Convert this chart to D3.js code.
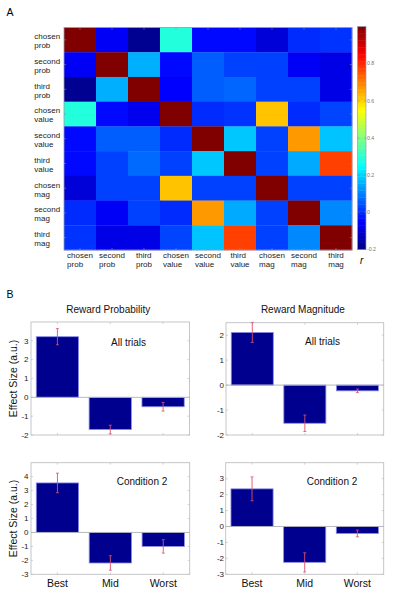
<!DOCTYPE html>
<html><head><meta charset="utf-8">
<script src="https://cdn.jsdelivr.net/npm/d3@7"></script>
<style>
body{margin:0;background:#fff;}
text{font-family:"Liberation Sans",Arial,sans-serif;}
</style></head>
<body><svg id="c" width="410" height="605"></svg>
<script>
// ---------- DATA ----------
const varLabels = [["chosen","prob"],["second","prob"],["third","prob"],["chosen","value"],["second","value"],["third","value"],["chosen","mag"],["second","mag"],["third","mag"]];
const corrMatrix = [
 [1.00,-0.06,-0.18, 0.29,-0.04,-0.04,-0.095,0.00, 0.01],
 [-0.06,1.00, 0.157,-0.04,0.06, 0.025,0.025,-0.06,-0.08],
 [-0.18,0.157,1.00,-0.05, 0.06, 0.07, 0.025,0.025,-0.08],
 [0.29,-0.04,-0.07, 1.00, 0.00, 0.01, 0.62, 0.00, 0.03],
 [-0.04,0.06, 0.06, 0.00, 1.00, 0.185,0.025,0.67, 0.18],
 [-0.04,0.025,0.075,0.025,0.185,1.00,0.025,0.15, 0.775],
 [-0.095,0.025,0.025,0.62,0.025,0.025,1.00,0.025,0.025],
 [0.00,-0.06,0.025, 0.00, 0.67, 0.15, 0.025,1.00, 0.11],
 [0.01,-0.08,-0.08, 0.03, 0.18, 0.775,0.025,0.11, 1.00]
];
const colorbarTicks = [-0.2, 0, 0.2, 0.4, 0.6, 0.8];
const colorbarTickLabels = ["-0.2","0","0.2","0.4","0.6","0.8"];

const barCategories = ["Best","Mid","Worst"];
const probAllTrials = [3.22,-1.71,-0.50];
const probAllTrialsErr = [0.43,0.23,0.23];
const magAllTrials = [2.11,-1.53,-0.23];
const magAllTrialsErr = [0.40,0.33,0.07];
const probCond2 = [3.55,-2.19,-1.00];
const probCond2Err = [0.70,0.52,0.48];
const magCond2 = [2.36,-2.25,-0.44];
const magCond2Err = [0.75,0.60,0.21];
const yTicksProbAll = [-2,-1,0,1,2,3];
const yTicksMagAll = [-2,-1,0,1,2];
const yTicksProbC2 = [-3,-2,-1,0,1,2,3,4];
const yTicksMagC2 = [-3,-2,-1,0,1,2,3];

// ---------- HELPERS ----------
const svg = d3.select("#c");
function jet(t){
  const cl = v => Math.max(0, Math.min(1, v));
  const r = cl(Math.min(4*t-1.5, -4*t+4.5));
  const g = cl(Math.min(4*t-0.5, -4*t+3.5));
  const b = cl(Math.min(4*t+0.5, -4*t+2.5));
  return d3.rgb(r*255, g*255, b*255).toString();
}
const cmin=-0.2, cmax=1.0;
const colorScale = v => jet((v-cmin)/(cmax-cmin));

// ---------- PANEL A ----------
svg.append("text").attr("x",6.5).attr("y",15.7).attr("font-size",10.5).text("A");

const hm = {x0:64, x1:352, y0:27.5, y1:250};
const idx = d3.range(varLabels.length);
const xs = d3.scaleBand().domain(idx).range([hm.x0,hm.x1]);
const ys = d3.scaleBand().domain(idx).range([hm.y0,hm.y1]);
const gA = svg.append("g");
corrMatrix.forEach((row,i)=>{
  gA.selectAll(null).data(row).enter().append("rect")
    .attr("x",(d,j)=>xs(j)).attr("y",ys(i))
    .attr("width",xs.bandwidth()+0.3).attr("height",ys.bandwidth()+0.3)
    .attr("fill",d=>colorScale(d));
});
gA.append("rect").attr("x",hm.x0).attr("y",hm.y0).attr("width",hm.x1-hm.x0).attr("height",hm.y1-hm.y0)
  .attr("fill","none").attr("stroke","#9a9ab0").attr("stroke-width",0.8);
const tk = 2.2, tickCol="#8a8aa0";
idx.forEach(i=>{
  const cx = xs(i)+xs.bandwidth()/2, cy = ys(i)+ys.bandwidth()/2;
  gA.append("line").attr("x1",cx).attr("x2",cx).attr("y1",hm.y0).attr("y2",hm.y0+tk).attr("stroke",tickCol).attr("stroke-width",0.6);
  gA.append("line").attr("x1",cx).attr("x2",cx).attr("y1",hm.y1).attr("y2",hm.y1-tk).attr("stroke",tickCol).attr("stroke-width",0.6);
  gA.append("line").attr("y1",cy).attr("y2",cy).attr("x1",hm.x0).attr("x2",hm.x0+tk).attr("stroke",tickCol).attr("stroke-width",0.6);
  gA.append("line").attr("y1",cy).attr("y2",cy).attr("x1",hm.x1).attr("x2",hm.x1-tk).attr("stroke",tickCol).attr("stroke-width",0.6);
});
varLabels.forEach((lab,i)=>{
  const cy = ys(i)+ys.bandwidth()/2;
  const t = gA.append("text").attr("font-size",8).attr("fill","#222");
  t.append("tspan").attr("x",34.3).attr("y",cy-0.6).text(lab[0]);
  t.append("tspan").attr("x",34.3).attr("y",cy+8.4).text(lab[1]);
});
varLabels.forEach((lab,i)=>{
  const cx = xs(i)+xs.bandwidth()/2;
  const t = gA.append("text").attr("font-size",8).attr("fill","#222");
  const s1 = t.append("tspan").attr("y",257.8).text(lab[0]);
  const s2 = t.append("tspan").attr("y",266.8).text(lab[1]);
  const w = Math.max(s1.node().getComputedTextLength(), s2.node().getComputedTextLength());
  s1.attr("x",cx-w/2); s2.attr("x",cx-w/2);
});
const cb = {x0:357.5, x1:366, y0:26.5, y1:249.5};
const cbScale = d3.scaleLinear().domain([cmin,cmax]).range([cb.y1,cb.y0]);
const nSteps = 64;
const steps = d3.range(nSteps).map(k=>cmin+(k+0.5)*(cmax-cmin)/nSteps);
const stepH = (cb.y1-cb.y0)/nSteps;
svg.selectAll(".cb").data(steps).enter().append("rect")
  .attr("x",cb.x0).attr("width",cb.x1-cb.x0)
  .attr("y",d=>cbScale(d)-stepH/2).attr("height",stepH+0.4)
  .attr("fill",d=>colorScale(d));
svg.append("rect").attr("x",cb.x0).attr("y",cb.y0).attr("width",cb.x1-cb.x0).attr("height",cb.y1-cb.y0)
  .attr("fill","none").attr("stroke","#9a9ab0").attr("stroke-width",0.7);
colorbarTicks.forEach((v,k)=>{
  const y = cbScale(v);
  svg.append("line").attr("x1",cb.x0).attr("x2",cb.x0+1.8).attr("y1",y).attr("y2",y).attr("stroke","#777").attr("stroke-width",0.5);
  svg.append("line").attr("x1",cb.x1).attr("x2",cb.x1-1.8).attr("y1",y).attr("y2",y).attr("stroke","#777").attr("stroke-width",0.5);
  svg.append("text").attr("x",cb.x1+1).attr("y",y+1.8).attr("font-size",5.2).attr("fill","#777").text(colorbarTickLabels[k]);
});
svg.append("text").attr("x",360).attr("y",263.5).attr("font-size",10).attr("font-style","italic").text("r");

// ---------- PANEL B ----------
svg.append("text").attr("x",6.5).attr("y",298).attr("font-size",10.5).text("B");

function barPanel(opt){
  const g = svg.append("g");
  const x = d3.scaleLinear().domain([0.5,3.5]).range([opt.left,opt.right]);
  const y = d3.scaleLinear().domain(opt.ylim).range([opt.bottom,opt.top]);
  const boxCol = "#bfbfc4";
  g.append("rect").attr("x",opt.left).attr("y",opt.top).attr("width",opt.right-opt.left).attr("height",opt.bottom-opt.top)
    .attr("fill","none").attr("stroke",boxCol).attr("stroke-width",0.9);
  opt.yticks.forEach(v=>{
    const yy = y(v);
    g.append("line").attr("x1",opt.left).attr("x2",opt.left+2).attr("y1",yy).attr("y2",yy).attr("stroke",boxCol).attr("stroke-width",0.7);
    g.append("line").attr("x1",opt.right).attr("x2",opt.right-2).attr("y1",yy).attr("y2",yy).attr("stroke",boxCol).attr("stroke-width",0.7);
    g.append("text").attr("x",opt.labelX).attr("y",yy+2.8).attr("text-anchor","end").attr("font-size",8).attr("fill","#222").text(v);
  });
  barCategories.forEach((c,i)=>{
    const xx = x(i+1);
    g.append("line").attr("x1",xx).attr("x2",xx).attr("y1",opt.bottom).attr("y2",opt.bottom-2).attr("stroke",boxCol).attr("stroke-width",0.7);
    g.append("line").attr("x1",xx).attr("x2",xx).attr("y1",opt.top).attr("y2",opt.top+2).attr("stroke",boxCol).attr("stroke-width",0.7);
    if(opt.showX) g.append("text").attr("x",xx).attr("y",586.5).attr("text-anchor","middle").attr("font-size",10.5).attr("fill","#111").text(c);
  });
  const bw = 0.8;
  g.selectAll(".bar").data(opt.values).enter().append("rect")
    .attr("x",(d,i)=>x(i+1-bw/2)).attr("width",x(bw)-x(0))
    .attr("y",d=>y(Math.max(0,d))).attr("height",d=>Math.abs(y(d)-y(0)))
    .attr("fill","#00008f").attr("stroke","#8c8ce8").attr("stroke-width",0.8);
  g.append("line").attr("x1",opt.left).attr("x2",opt.right).attr("y1",y(0)).attr("y2",y(0)).attr("stroke","#b0b0b8").attr("stroke-width",0.9);
  opt.values.forEach((v,i)=>{
    const xx = x(i+1), e = opt.errs[i];
    const ec = "#e0506e";
    g.append("line").attr("x1",xx).attr("x2",xx).attr("y1",y(v-e)).attr("y2",y(v+e)).attr("stroke",ec).attr("stroke-width",0.9);
    [v-e,v+e].forEach(w=>g.append("line").attr("x1",xx-1.5).attr("x2",xx+1.5).attr("y1",y(w)).attr("y2",y(w)).attr("stroke",ec).attr("stroke-width",0.8));
  });
  if(opt.title) g.append("text").attr("x",(opt.left+opt.right)/2-2).attr("y",313).attr("text-anchor","middle").attr("font-size",10).attr("fill","#111").text(opt.title);
  g.append("text").attr("x",opt.noteX).attr("y",opt.noteY).attr("font-size",10).attr("fill","#111").text(opt.note);
  if(opt.ylabel){
    const cy = (opt.top+opt.bottom)/2;
    g.append("text").attr("transform",`translate(16.5,${cy}) rotate(-90)`).attr("text-anchor","middle").attr("font-size",10.5).attr("fill","#111").text(opt.ylabel);
  }
}
barPanel({left:31,right:189.5,top:322,bottom:435,ylim:[-2,4],yticks:yTicksProbAll,values:probAllTrials,errs:probAllTrialsErr,
  labelX:28.5,title:"Reward Probability",note:"All trials",noteX:111,noteY:345.5,ylabel:"Effect Size (a.u.)",showX:false});
barPanel({left:226,right:383.7,top:322.7,bottom:435,ylim:[-2,2.5],yticks:yTicksMagAll,values:magAllTrials,errs:magAllTrialsErr,
  labelX:224,title:"Reward Magnitude",note:"All trials",noteX:305,noteY:345,ylabel:null,showX:false});
barPanel({left:31,right:189.7,top:462.7,bottom:574.3,ylim:[-3,5],yticks:yTicksProbC2,values:probCond2,errs:probCond2Err,
  labelX:28.5,title:null,note:"Condition 2",noteX:116.7,noteY:485,ylabel:"Effect Size (a.u.)",showX:true});
barPanel({left:225.7,right:383.7,top:462.7,bottom:574.3,ylim:[-3,4],yticks:yTicksMagC2,values:magCond2,errs:magCond2Err,
  labelX:224,title:null,note:"Condition 2",noteX:306.7,noteY:485,ylabel:null,showX:true});
</script>
</body></html>
